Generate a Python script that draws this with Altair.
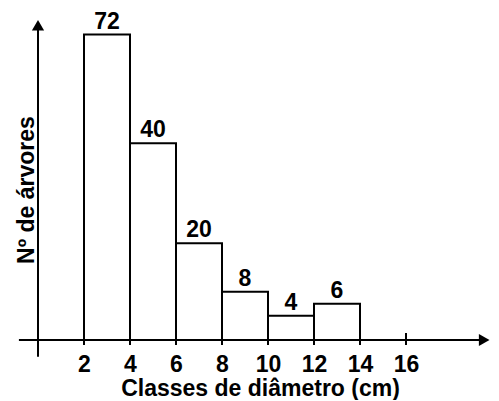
import altair as alt
import pandas as pd

# ---- data ----
bin_start = [2, 4, 6, 8, 10, 12]
bin_end = [4, 6, 8, 10, 12, 14]
counts = [72, 40, 20, 8, 4, 6]
tick_values = [2, 4, 6, 8, 10, 12, 14, 16]
x_title = "Classes de diâmetro (cm)"
y_title = "Nº de árvores"

# ---- layout ----
PAD_TOP = 4
W, H = 483, 328
X0_PX, UNIT = 30, 23          # x = 0 sits 30 px from the view's left edge, 23 px per cm
x_domain = [-X0_PX / UNIT, (W - X0_PX) / UNIT]
# hand-drawn original is not to scale: piecewise-linear y scale reproduces its bar heights
y_domain = [-3, 0, 8, 20, 40, 72, 76]
y_range = [v - PAD_TOP for v in [350, 332, 283.7, 235.3, 135.3, 26.5, 9]]
Y_TOP = 74.13                 # top of the vertical axis (arrow)

FONT = "Liberation Sans"
FS = 23

xs = alt.Scale(domain=x_domain, nice=False, zero=False)
ys = alt.Scale(domain=y_domain, range=y_range, nice=False, zero=False)

x_axis = alt.Axis(
    values=tick_values, domain=False, ticks=False, tickSize=0, grid=False,
    labelFont=FONT, labelFontWeight="bold", labelFontSize=FS, labelColor="black",
    labelBaseline="alphabetic", labelPadding=31, labelAngle=0, labelFlush=False,
    title=x_title, titleFont=FONT, titleFontWeight="bold", titleFontSize=FS,
    titleColor="black", titleX=252, titleY=55, titleAlign="center",
    titleBaseline="alphabetic", titleAnchor="start",
)
y_axis = alt.Axis(
    domain=False, ticks=False, labels=False, grid=False,
    title=y_title, titleFont=FONT, titleFontWeight="bold", titleFontSize=FS,
    titleColor="black", titleX=25, titleY=181.5 - PAD_TOP, titleAngle=270,
    titleAlign="center", titleBaseline="alphabetic", titleAnchor="start",
)


def X(field):
    return alt.X(f"{field}:Q", scale=xs, axis=x_axis)


def Y(field):
    return alt.Y(f"{field}:Q", scale=ys, axis=y_axis)


bars_df = pd.DataFrame({"start": bin_start, "end": bin_end, "count": counts})
ticks_df = pd.DataFrame({"t": tick_values})

x_line = alt.Chart(pd.DataFrame({"a": [-0.83], "b": [19.4], "y": [0]})).mark_rule(
    color="black", strokeWidth=2
).encode(x=X("a"), x2="b", y=Y("y"))

y_line = alt.Chart(pd.DataFrame({"x": [0], "a": [-2.8], "b": [Y_TOP]})).mark_rule(
    color="black", strokeWidth=2
).encode(x=X("x"), y=Y("a"), y2="b")

tick_marks = alt.Chart(ticks_df).transform_calculate(lo="-0.83", hi="1.16").mark_rule(
    color="black", strokeWidth=2
).encode(x=X("t"), y=Y("lo"), y2="hi")

bars = alt.Chart(bars_df).transform_calculate(base="0").mark_rect(
    fill="white", stroke="black", strokeWidth=2
).encode(x=X("start"), x2="end", y=Y("count"), y2="base")

labels = alt.Chart(bars_df).transform_calculate(
    mid="(datum.start + datum.end) / 2"
).mark_text(
    dy=-6, baseline="alphabetic", align="center", font=FONT,
    fontWeight="bold", fontSize=FS, color="black"
).encode(x=X("mid"), y=Y("count"), text="count:Q")

arrow_up = alt.Chart(pd.DataFrame({"x": [0], "y": [Y_TOP]})).mark_point(
    shape="triangle-up", filled=True, color="black", size=150, opacity=1
).encode(x=X("x"), y=Y("y"))

arrow_right = alt.Chart(pd.DataFrame({"x": [19.4], "y": [0]})).mark_point(
    shape="triangle-right", filled=True, color="black", size=150, opacity=1
).encode(x=X("x"), y=Y("y"))

chart = alt.layer(
    tick_marks, bars, x_line, y_line, labels, arrow_up, arrow_right
).properties(
    width=W, height=H,
    autosize=alt.AutoSizeParams(type="none"),
    padding={"left": 0, "top": PAD_TOP, "right": 0, "bottom": 60},
    background="white",
).configure_view(stroke=None)

chart.save("out.html", embed_options={"renderer": "svg", "actions": False})
